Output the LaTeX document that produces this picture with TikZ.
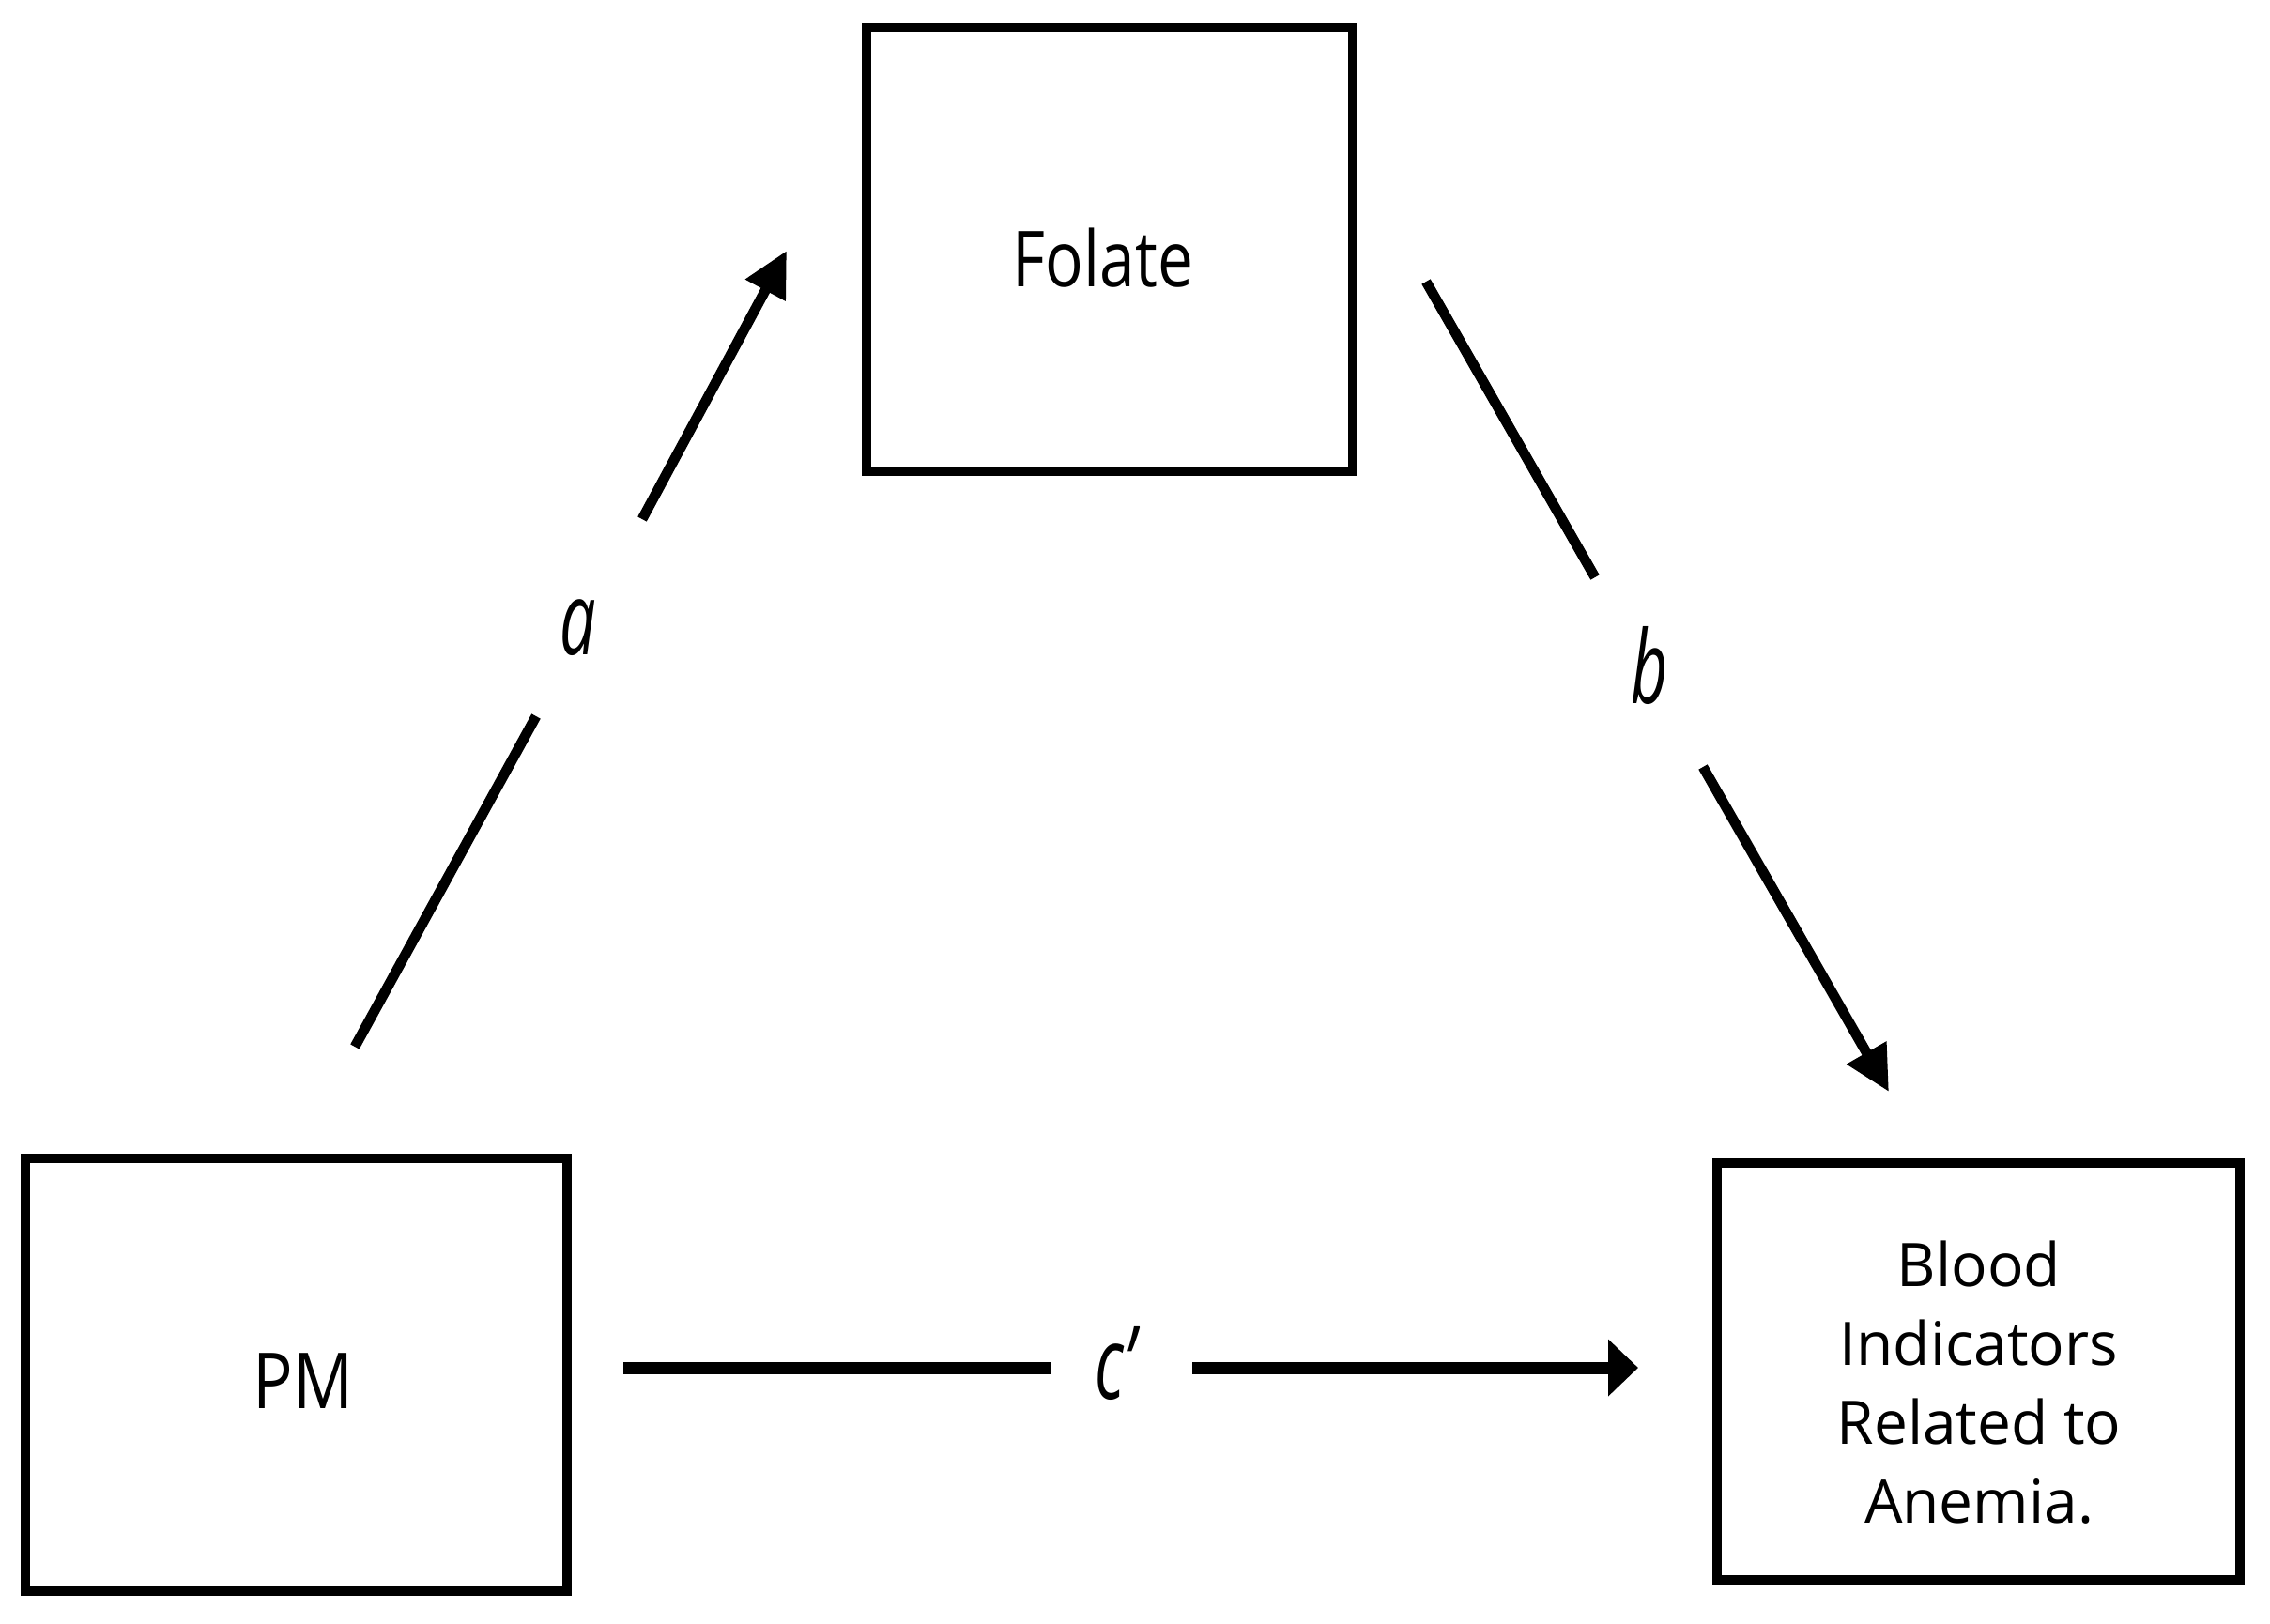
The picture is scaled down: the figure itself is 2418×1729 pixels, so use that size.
\documentclass[tikz,border=0pt]{standalone}
\usepackage{fontspec}
\usepackage{graphicx}
\setmainfont{Open Sans}
\usetikzlibrary{arrows.meta}
\begin{document}
\begin{tikzpicture}[x=0.25pt,y=-0.25pt,
  boxnode/.style={draw=black,line width=2.6pt,inner sep=0pt,fill=white},
  txt/.style={inner sep=0pt,font=\fontsize{20.6pt}{24pt}\selectfont},
  blood/.style={inner sep=0pt,align=center,font=\fontsize{16pt}{21pt}\selectfont},
  lab/.style={inner sep=0pt,font=\fontsize{27pt}{30pt}\selectfont\itshape},
  diag/.style={line width=2.7pt},
  diagarrow/.style={line width=2.7pt,-{Triangle[length=12pt,width=11.5pt]}},
  horiz/.style={line width=3.25pt},
  horizarrow/.style={line width=3.25pt,-{Triangle[length=8pt,width=14.75pt]}}
]
\useasboundingbox (0,0) rectangle (2418,1729);
% boxes
\node[boxnode,minimum width=129.5pt,minimum height=118.25pt] (folate) at (1182,265.5) {};
\node[boxnode,minimum width=144.25pt,minimum height=115.25pt] (pm) at (315.5,1464.5) {};
\node[boxnode,minimum width=139.25pt,minimum height=111pt] (blood) at (2107.5,1461) {};
% texts
\node[txt] (folatetxt) at (1175,275) {\scalebox{0.82}[1]{Folate}};
\node[txt] (pmtxt) at (323,1471) {\scalebox{0.86}[1]{PM}};
\node[blood] (bloodtxt) at (2108,1473) {Blood\\Indicators\\Related to\\Anemia.};
% connector points
\coordinate (a1) at (378,1115);
\coordinate (a2) at (571,763);
\coordinate (a3) at (684,553);
\coordinate (a4) at (838,267);
\coordinate (b1) at (1519,300);
\coordinate (b2) at (1699,615);
\coordinate (b3) at (1814,817);
\coordinate (b4) at (2012,1163);
\coordinate (c1) at (664,1457);
\coordinate (c2) at (1120,1457);
\coordinate (c3) at (1270,1457);
\coordinate (c4) at (1745,1457);
% labels
\node[lab] (la) at (616,669) {\scalebox{0.63}[1]{a}};
\node[lab] (lb) at (1757,709) {\scalebox{0.63}[1]{b}};
\node[lab] (lc) at (1188,1452) {\scalebox{0.63}[1]{c’}};
% connectors
\draw[diag] (a1) -- (a2);
\draw[diagarrow] (a3) -- (a4);
\draw[diag] (b1) -- (b2);
\draw[diagarrow] (b3) -- (b4);
\draw[horiz] (c1) -- (c2);
\draw[horizarrow] (c3) -- (c4);
\end{tikzpicture}
\end{document}
